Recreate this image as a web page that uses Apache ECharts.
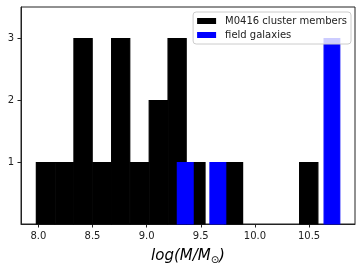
<!DOCTYPE html>
<html>
<head>
<meta charset="utf-8">
<script src="https://cdn.jsdelivr.net/npm/echarts@6/dist/echarts.min.js"></script>
<style>
  html, body { margin: 0; padding: 0; background: #fff; }
  #chart { width: 362px; height: 271px; }
</style>
</head>
<body>
<div id="chart"></div>
<script>
// histogram bins
const clusterEdges = [7.979, 8.153, 8.326, 8.500, 8.674, 8.847, 9.021, 9.195, 9.368, 9.542, 9.716, 9.889, 10.063, 10.237, 10.410, 10.584]
const clusterCounts = [1, 1, 3, 1, 3, 1, 2, 3, 1, 0, 1, 0, 0, 0, 1]
const fieldEdges = [9.281, 9.432, 9.582, 9.733, 9.883, 10.034, 10.184, 10.335, 10.485, 10.636, 10.786]
const fieldCounts = [1, 0, 1, 0, 0, 0, 0, 0, 0, 3]
const xTicks = [8.0, 8.5, 9.0, 9.5, 10.0, 10.5]
const yTicks = [1, 2, 3]

const font = 'DejaVu Sans'

function toBins(edges, counts) {
  return counts.map((c, i) => [edges[i], edges[i + 1], c])
}

// bar from left edge to right edge, 0 up to count
function renderBin(params, api) {
  if (!api.value(2)) return
  const topLeft = api.coord([api.value(0), api.value(2)])
  const bottomRight = api.coord([api.value(1), 0])
  const color = api.visual('color')
  return {
    type: 'rect',
    shape: {
      x: topLeft[0] + 0.3,
      y: topLeft[1] + 0.6,
      width: bottomRight[0] - topLeft[0] - 0.6,
      height: bottomRight[1] - topLeft[1] - 0.6
    },
    // same-colour stroke overlaps the neighbour bin so no seam shows
    style: { fill: color, stroke: color, lineWidth: 1.2 }
  }
}

const chart = echarts.init(document.getElementById('chart'))
chart.setOption({
  animation: false,
  grid: {
    left: 21,
    right: 7,
    top: 7,
    bottom: 47,
    show: true,
    borderColor: '#222',
    borderWidth: 1
  },
  legend: {
    orient: 'vertical',
    right: 11,
    top: 12,
    itemWidth: 19,
    itemHeight: 6,
    itemGap: 2,
    padding: [3, 4, 3, 4],
    backgroundColor: 'rgba(255,255,255,0.8)',
    borderColor: '#ccc',
    borderWidth: 1,
    borderRadius: 3,
    icon: 'rect',
    textStyle: {
      fontFamily: font,
      fontSize: 10,
      color: '#222',
      lineHeight: 12,
      padding: [0, 0, 0, 4]
    },
    data: ['M0416 cluster members', 'field galaxies']
  },
  xAxis: {
    type: 'value',
    min: 7.84,
    max: 10.924,
    splitLine: { show: false },
    axisLine: { show: true, onZero: false, lineStyle: { color: '#222', width: 1 } },
    axisTick: { show: true, length: 3.5, customValues: xTicks, lineStyle: { color: '#222' } },
    axisLabel: {
      customValues: xTicks,
      margin: 7,
      fontFamily: font,
      fontSize: 10,
      color: '#222',
      formatter: v => v.toFixed(1)
    },
    name: '{i|log(M/M}{s|⊙}{i|)}',
    nameLocation: 'middle',
    nameGap: 23,
    nameTextStyle: {
      rich: {
        i: { fontFamily: font, fontStyle: 'italic', fontSize: 15, color: '#000' },
        s: { fontFamily: font, fontSize: 10, color: '#000', padding: [8, 0, 0, 0] }
      }
    }
  },
  yAxis: {
    type: 'value',
    min: 0,
    max: 3.5,
    splitLine: { show: false },
    axisLine: { show: true, lineStyle: { color: '#222', width: 1 } },
    axisTick: { show: true, length: 3.5, customValues: yTicks, lineStyle: { color: '#222' } },
    axisLabel: {
      customValues: yTicks,
      margin: 7,
      fontFamily: font,
      fontSize: 10,
      color: '#222'
    }
  },
  series: [
    {
      name: 'M0416 cluster members',
      type: 'custom',
      renderItem: renderBin,
      itemStyle: { color: '#000000' },
      encode: { x: [0, 1], y: 2 },
      data: toBins(clusterEdges, clusterCounts)
    },
    {
      name: 'field galaxies',
      type: 'custom',
      renderItem: renderBin,
      itemStyle: { color: '#0000ff' },
      encode: { x: [0, 1], y: 2 },
      data: toBins(fieldEdges, fieldCounts)
    }
  ]
})
</script>
</body>
</html>
